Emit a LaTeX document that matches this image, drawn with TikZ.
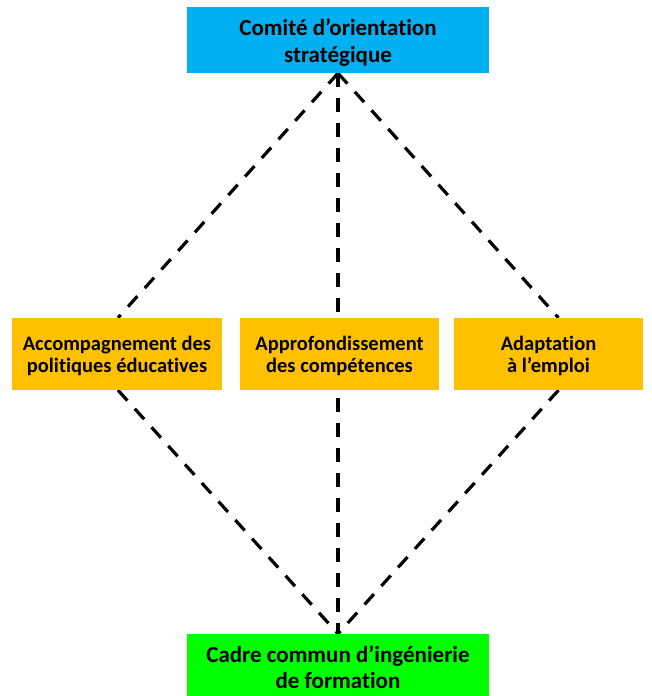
\documentclass[tikz,border=0pt]{standalone}
\usepackage{fontspec}
\setmainfont[Ligatures=NoCommon]{Carlito}
\usetikzlibrary{backgrounds}
\definecolor{boxcyan}{HTML}{00B0F0}
\definecolor{boxgold}{HTML}{FFC000}
\definecolor{boxgreen}{HTML}{00FF00}
\begin{document}
\begin{tikzpicture}[x=1pt,y=-1pt,
  box/.style={rectangle, inner sep=0pt, align=center, text height=43.4pt,
    text depth=6pt, font=\fontsize{20.5}{22.7}\selectfont\bfseries},
  bigbox/.style={box, minimum width=302pt},
  link/.style={line width=3.2pt, dash pattern=on 14pt off 11pt}]
\useasboundingbox (0,0) rectangle (652,696);

% boxes
\node[bigbox, fill=boxcyan, minimum height=66pt, text height=51.4pt,
      font=\fontsize{23}{27.7}\selectfont\bfseries] (top) at (338,40)
  {Comité d’orientation\\stratégique};
\node[box, fill=boxgold, minimum width=210pt, minimum height=72pt] (left) at (117,354)
  {Accompagnement des\\politiques éducatives};
\node[box, fill=boxgold, minimum width=199pt, minimum height=72pt] (mid) at (339.5,354)
  {Approfondissement\\des compétences};
\node[box, fill=boxgold, minimum width=189pt, minimum height=72pt] (right) at (548.5,354)
  {Adaptation\\à l’emploi};
\node[bigbox, fill=boxgreen, minimum height=62pt, text height=52.6pt,
      font=\fontsize{23}{25.7}\selectfont\bfseries] (bot) at (338,665)
  {Cadre commun d’ingénierie\\de formation};

% dashed connectors, drawn behind the boxes
\begin{scope}[on background layer]
  \draw[link] (top.south) -- ([xshift=1pt]left.north);
  \draw[link] (top.south) -- ([xshift=10pt]right.north);
  \draw[link] (top.south) -- (bot.north);
  \draw[link] ([xshift=1pt]left.south) -- (bot.north);
  \draw[link] ([xshift=10pt]right.south) -- (bot.north);
\end{scope}
\end{tikzpicture}
\end{document}
